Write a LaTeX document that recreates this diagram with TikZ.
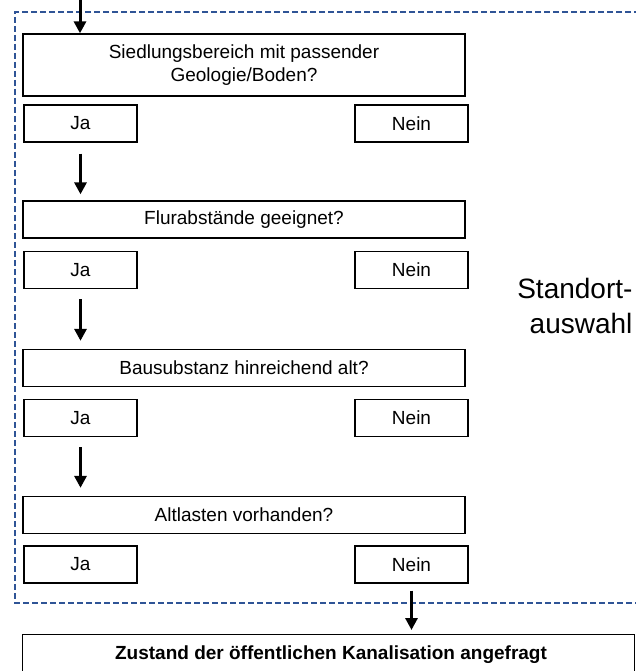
\documentclass[tikz,border=0pt]{standalone}
\usepackage{fontspec}
\setmainfont{Liberation Sans}
\usetikzlibrary{arrows.meta}
\definecolor{dashblue}{RGB}{47,84,150}
\tikzset{
  box/.style={draw=black, line width=1.3pt, inner sep=0pt, align=center, font=\fontsize{19}{23}\selectfont},
  small/.style={box, minimum width=113pt, minimum height=37pt},
  big/.style={box, minimum width=442pt, minimum height=37pt},
  arr/.style={line width=3pt, -{Triangle[width=12pt,length=12pt]}},
  frame/.style={draw=dashblue, line width=2.2pt, dash pattern=on 6pt off 3pt},
}
\begin{document}
\begin{tikzpicture}[x=1pt,y=-1pt]
\useasboundingbox (0,0) rectangle (636,671);
\clip (0,0) rectangle (636,671);
\fill[white] (0,0) rectangle (636,671);
% dashed frame
\draw[frame] (640,12) -- (15,12) -- (15,603) -- (640,603);
% questions
\node[big, minimum height=62pt] (q1) at (244,65) {Siedlungsbereich mit passender\\Geologie/Boden?};
\node[small] (j1) at (80.5,123.5) {Ja};
\node[small] (n1) at (411.5,123.5) {Nein};
\node[big] (q2) at (244,219.5) {Flurabstände geeignet?};
\node[small] (j2) at (80.5,270) {Ja};
\node[small] (n2) at (411.5,270) {Nein};
\node[big] (q3) at (244,368) {Bausubstanz hinreichend alt?};
\node[small] (j3) at (80.5,418) {Ja};
\node[small] (n3) at (411.5,418) {Nein};
\node[big] (q4) at (244,515) {Altlasten vorhanden?};
\node[small] (j4) at (80.5,564.5) {Ja};
\node[small] (n4) at (411.5,564.5) {Nein};
\node[draw=black, line width=1.3pt, minimum width=612pt, minimum height=50pt, anchor=north west, inner sep=0pt] (z) at (22,634) {};
\node[font=\bfseries\fontsize{19}{22}\selectfont] (zt) at (331,655) {Zustand der öffentlichen Kanalisation angefragt};
\node[font=\fontsize{28}{35}\selectfont, align=right, anchor=east] (sa) at (636,306) {Standort-\\auswahl};
% arrows
\coordinate (top) at (80,-2);
\draw[arr] (top) -- (q1.north -| top);
\draw[arr, shorten <=11pt, shorten >=6pt] (j1.south) -- (j1.south |- q2.north);
\draw[arr, shorten <=10pt, shorten >=8pt] (j2.south) -- (j2.south |- q3.north);
\draw[arr, shorten <=10pt, shorten >=8pt] (j3.south) -- (j3.south |- q4.north);
\draw[arr, shorten <=7pt, shorten >=4pt] (n4.south) -- (n4.south |- z.north);
\end{tikzpicture}
\end{document}
